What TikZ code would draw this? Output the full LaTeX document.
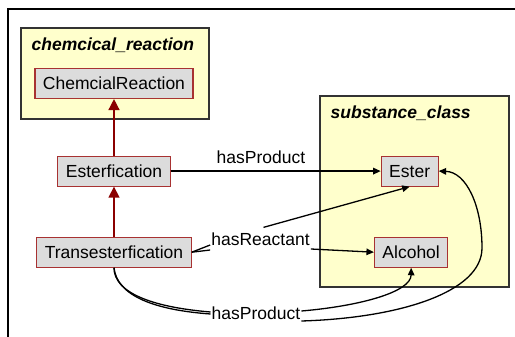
\documentclass[tikz,border=0pt]{standalone}
\usepackage{fontspec}
\setmainfont{Liberation Sans}
\usetikzlibrary{arrows.meta, positioning}
\definecolor{clsfill}{HTML}{DCDCDC}
\definecolor{clsline}{HTML}{A83232}
\definecolor{pkgfill}{HTML}{FFFFCC}
\definecolor{isaline}{HTML}{8B0000}

\begin{document}
\begin{tikzpicture}[x=1pt, y=-1pt,
        cls/.style={draw=clsline, fill=clsfill, line width=1.1pt, font=\fontsize{17.5}{21}\selectfont, minimum height=30pt, inner xsep=8pt},
        pkg/.style={draw=black!80, fill=pkgfill, line width=1.1pt},
        pkgtitle/.style={font=\fontsize{17.5}{21}\selectfont\bfseries\itshape, anchor=base west, inner sep=0pt},
        lbl/.style={font=\fontsize{17.5}{21}\selectfont, inner sep=1pt},
        isa/.style={draw=isaline, line width=1.4pt, -{Triangle[width=11pt, length=11pt]}},
        rel/.style={line width=1.3pt, -{Triangle[width=6.5pt, length=7.5pt]}},
        node distance=50pt and 210pt
    ]
        \useasboundingbox (0,0) rectangle (515,337);
        \draw[line width=1.3pt] (8,337) |- (515,9);

        \node[pkg, minimum width=188pt, minimum height=91pt] (reactpkg) at (115,73.5) {};
        \node[pkgtitle] (reacttitle) at ([xshift=11pt, yshift=-23.5pt]reactpkg.north west) {chemcical\_reaction};
        \node[pkg, minimum width=189pt, minimum height=191pt] (substpkg) at (414.5,191.5) {};
        \node[pkgtitle] (substtitle) at ([xshift=11pt, yshift=-23pt]substpkg.north west) {substance\_class};

        \node[cls] (chem) at (114,83.5) {ChemcialReaction};
        \node[cls, below=56.5pt of chem] (esterf) {Esterfication};
        \node[cls, below=50pt of esterf] (trans) {Transesterfication};
        \node[cls, right=210pt of esterf] (ester) {Ester};
        \node[cls, below=50pt of ester, xshift=1.5pt] (alcohol) {Alcohol};

        \node[lbl] (react) at (260.5,239) {hasReactant};
        \node[lbl] (prod) at (256,313) {hasProduct};

        \draw[isa] (esterf) -- (chem);
        \draw[isa] (trans) -- (esterf);
        \draw[rel] (esterf) -- node[lbl, pos=0.43, above=5.5pt] (prodtop) {hasProduct} (ester);

        \draw[rel] (trans.east) -- ([yshift=-6pt]react.west) ([xshift=3pt, yshift=4pt]react.north) -- (ester.south);
        \draw[rel] (trans.east) -- ([yshift=-11pt]react.west) ([yshift=-10pt]react.east) -- (alcohol.west);

        \draw[rel] (trans.south) .. controls (114,292) and (150,307) .. ([yshift=1pt]prod.west)
            ([yshift=2pt]prod.east) .. controls (360,306) and (411,292) .. (alcohol.south);
        \draw[rel] (trans.south) .. controls (117,296) and (155,310) .. ([yshift=-1pt]prod.west)
            ([yshift=-8pt]prod.east) .. controls (400,318) and (482,292) .. (482,248)
            .. controls (482,205) and (466,172) .. (ester.east);
    \end{tikzpicture}
\end{document}
